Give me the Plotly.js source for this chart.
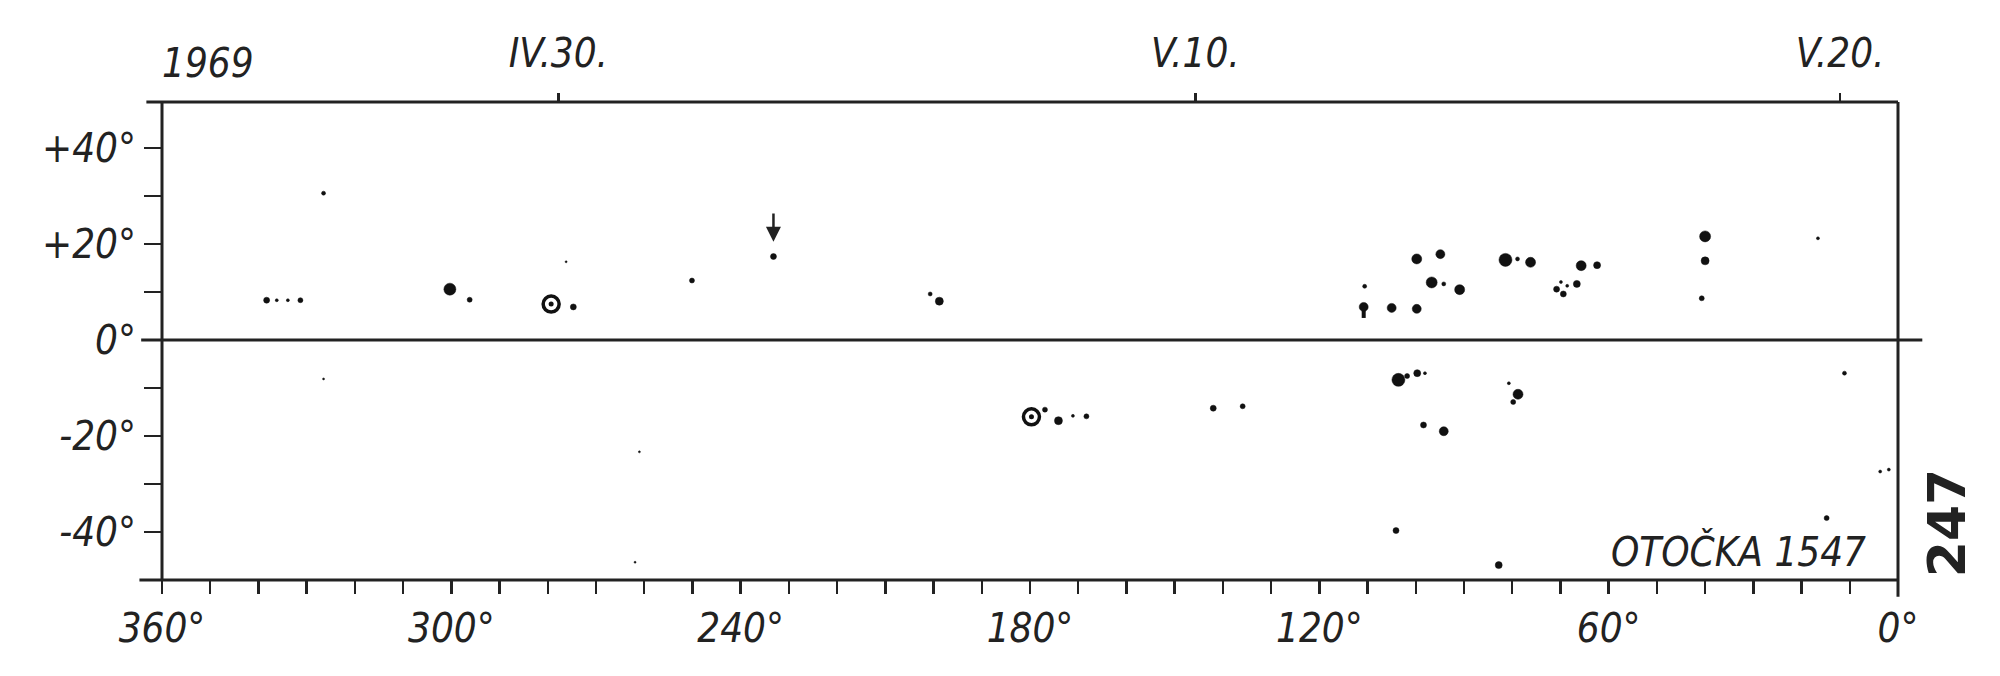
<!DOCTYPE html>
<html>
<head>
<meta charset="utf-8">
<script src="https://cdn.plot.ly/plotly-3.0.1.min.js"></script>
<style>html,body{margin:0;padding:0;background:#fff;}#chart{width:2000px;height:676px;}</style>
</head>
<body>
<div id="chart"></div>
<script>
// Sunspot positions (Carrington longitude, latitude, relative size)
var spotLon  = [326.5,338.3,336.2,333.9,331.3,300.3,296.2,276.2,274.7,250.1,233.2,200.7,198.8,
                110.6,110.8,105.0,99.8,99.8,94.9,96.7,94.2,90.9,81.4,78.9,76.2,70.8,69.4,68.6,66.6,69.9,65.7,62.4,
                40.0,40.0,40.7,16.6,
                326.5,261.0,261.9,176.9,174.1,171.1,168.3,142.0,135.9,103.6,101.8,99.7,98.1,
                80.7,78.8,79.8,98.4,94.2,104.1,82.8,11.1,14.8,3.7,1.9];
var spotLat  = [30.6,8.3,8.3,8.3,8.3,10.6,8.4,16.3,6.9,12.4,17.4,9.6,8.1,
                11.2,6.9,6.7,6.5,16.9,17.9,12.0,11.7,10.5,16.7,16.9,16.2,10.6,9.6,11.3,11.7,12.1,15.5,15.6,
                21.6,16.5,8.7,21.2,
                -8.1,-23.3,-46.3,-14.5,-16.8,-15.8,-15.9,-14.2,-13.8,-8.3,-7.5,-6.9,-6.9,
                -9.0,-11.3,-12.9,-17.7,-19.0,-39.7,-46.9,-6.9,-37.1,-27.4,-27.0];
var spotSize = [4,6,3,3,5,12,5,2,6,5,6,4,8,
                4,9,9,9,10,9,11,4,10,13,4,10,6,6,3,7,3,10,7,
                11,8,5,3,
                2,2,2,5,8,3,5,6,5,13,5,7,3,
                3,10,5,6,9,6,7,4,5,3,3];
// Spots drawn with a penumbra ring
var ringLon = [279.3, 179.7];
var ringLat = [7.5, -16.0];
// Spot with a vertical tail
var tailLon = [110.8, 110.8];
var tailLat = [4.6, 7.5];
// Arrow marking a spot
var arrowLon = [233.2];
var arrowFrom = [26.7];
var arrowTo = [20.5];
// Axis labels
var lonLabelVals = [360,300,240,180,120,60,0];
var latLabelVals = [40,20,0,-20,-40];
var latLabels = ['+40°','+20°','0°','-20°','-40°'];
var dateLon = [277.8,145.7,12.0];
var dateText = ['IV.30.','V.10.','V.20.'];
var yearText = '1969';
var rotationText = 'OTOČKA 1547';
var pageText = '247';

var FONT = 'DejaVu Sans Condensed, Liberation Sans Narrow, DejaVu Sans, sans-serif';
var INK = '#222222';
var SPOT = '#111111';

var xTickVals = [], xTickText = [];
for (var v = 0; v <= 360; v += 10) {
  xTickVals.push(v);
  xTickText.push(lonLabelVals.indexOf(v) >= 0 ? v + '°' : '');
}
var yTickVals = [], yTickText = [];
for (var w = -40; w <= 40; w += 10) {
  yTickVals.push(w);
  var k = latLabelVals.indexOf(w);
  yTickText.push(k >= 0 ? latLabels[k] : '');
}

var traces = [
  {x: tailLon, y: tailLat, mode: 'lines', line: {color: SPOT, width: 4}, hoverinfo: 'skip', showlegend: false},
  {x: spotLon, y: spotLat, mode: 'markers', hoverinfo: 'skip', showlegend: false,
   marker: {color: SPOT, size: spotSize, opacity: 1, line: {width: 0.5, color: SPOT}}},
  {x: ringLon, y: ringLat, mode: 'markers', hoverinfo: 'skip', showlegend: false,
   marker: {symbol: 'circle-open', color: SPOT, size: 16, line: {width: 3.5, color: SPOT}}},
  {x: ringLon, y: ringLat, mode: 'markers', hoverinfo: 'skip', showlegend: false,
   marker: {color: SPOT, size: 5}},
  {x: dateLon, y: dateLon.map(function(){return 0;}), xaxis: 'x2', mode: 'markers',
   marker: {opacity: 0}, hoverinfo: 'skip', showlegend: false}
];

var annotations = [];
for (var i = 0; i < arrowLon.length; i++) {
  annotations.push({x: arrowLon[i], y: arrowTo[i], ax: arrowLon[i], ay: arrowFrom[i],
    xref: 'x', yref: 'y', axref: 'x', ayref: 'y', showarrow: true, text: '',
    arrowhead: 2, arrowsize: 1.2, arrowwidth: 2.5, arrowcolor: INK});
}
annotations.push({xref: 'paper', yref: 'paper', x: 0.0265, y: 1.082, text: yearText, showarrow: false,
  xanchor: 'center', yanchor: 'middle', font: {family: FONT, size: 40, color: INK, style: 'italic'}});
annotations.push({xref: 'paper', yref: 'paper', x: 0.983, y: 0.059, text: rotationText, showarrow: false,
  xanchor: 'right', yanchor: 'middle', font: {family: FONT, size: 40, color: INK, style: 'italic'}});
annotations.push({xref: 'paper', yref: 'paper', x: 1.028, y: 0.12, text: pageText, showarrow: false,
  textangle: -90, xanchor: 'center', yanchor: 'middle', font: {family: 'DejaVu Sans, sans-serif', size: 52, color: INK, weight: 'bold'}});

var lineStyle = {color: INK, width: 3};
var shapes = [
  {type: 'line', xref: 'paper', yref: 'paper', x0: -0.009, x1: 1, y0: 1, y1: 1, line: lineStyle},
  {type: 'line', xref: 'paper', yref: 'paper', x0: -0.013, x1: 1, y0: 0, y1: 0, line: lineStyle},
  {type: 'line', xref: 'paper', yref: 'paper', x0: 0, x1: 0, y0: 0, y1: 1, line: lineStyle},
  {type: 'line', xref: 'paper', yref: 'paper', x0: 1, x1: 1, y0: -0.035, y1: 1, line: lineStyle},
  {type: 'line', xref: 'paper', yref: 'y', x0: -0.012, x1: 1.014, y0: 0, y1: 0, line: lineStyle}
];

var layout = {
  width: 2000, height: 676,
  paper_bgcolor: '#ffffff', plot_bgcolor: '#ffffff',
  margin: {l: 162, r: 102, t: 102, b: 96},
  showlegend: false,
  xaxis: {range: [360, 0], showgrid: false, zeroline: false, showline: false,
    tickmode: 'array', tickvals: xTickVals, ticktext: xTickText,
    ticks: 'outside', ticklen: 13, tickwidth: 2.5, tickcolor: INK,
    tickfont: {family: FONT, size: 40, color: INK, style: 'italic'}, ticklabelstandoff: 0},
  xaxis2: {range: [360, 0], overlaying: 'x', side: 'top', showgrid: false, zeroline: false, showline: false,
    tickmode: 'array', tickvals: dateLon, ticktext: dateText,
    ticks: 'outside', ticklen: 8, tickwidth: 2.5, tickcolor: INK,
    tickfont: {family: FONT, size: 40, color: INK, style: 'italic'}, ticklabelstandoff: 10},
  yaxis: {range: [-50, 49.6], showgrid: false, zeroline: false, showline: false,
    tickmode: 'array', tickvals: yTickVals, ticktext: yTickText,
    ticks: 'outside', ticklen: 17, tickwidth: 2.5, tickcolor: INK,
    tickfont: {family: FONT, size: 40, color: INK, style: 'italic'}, ticklabelstandoff: 0},
  shapes: shapes,
  annotations: annotations
};

Plotly.newPlot('chart', traces, layout, {staticPlot: true, displayModeBar: false});
</script>
</body>
</html>
